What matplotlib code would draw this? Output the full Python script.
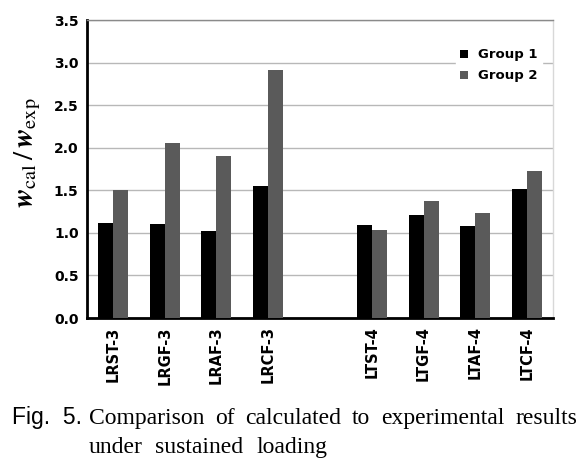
import numpy as np
import matplotlib
matplotlib.use('Agg')
import matplotlib.pyplot as plt

# data
labels = ['LRST-3', 'LRGF-3', 'LRAF-3', 'LRCF-3', '', 'LTST-4', 'LTGF-4', 'LTAF-4', 'LTCF-4']
group1 = [1.12, 1.10, 1.02, 1.555, np.nan, 1.09, 1.21, 1.08, 1.515]
group2 = [1.50, 2.06, 1.90, 2.91, np.nan, 1.03, 1.375, 1.23, 1.725]
yticks = [0.0, 0.5, 1.0, 1.5, 2.0, 2.5, 3.0, 3.5]
caption1 = 'Comparison of calculated to experimental results'
caption2 = 'under sustained loading'

plt.rcParams['mathtext.fontset'] = 'stix'

fig = plt.figure(figsize=(5.86, 4.65), dpi=100)
ax = fig.add_axes([87/586, 1-318/465, 466/586, 298/465])

x = np.arange(len(labels))
w = 0.29
ax.bar(x - w/2, group1, w, color='black', label='Group 1', zorder=3)
ax.bar(x + w/2, group2, w, color='#5a5a5a', label='Group 2', zorder=3)

ax.set_xlim(-0.5, len(labels) - 0.5)
ax.set_ylim(0, 3.5)
ax.set_yticks(yticks)
ax.set_yticklabels(['%.1f' % v for v in yticks], fontweight='bold', fontsize=10)
ax.set_xticks([i for i in x if labels[i] != ''])
ax.set_xticklabels([l for l in labels if l != ''], rotation=90, fontweight='bold', fontsize=10.5)
ax.tick_params(length=0, pad=6)
ax.tick_params(axis='x', pad=6)

ax.yaxis.grid(True, color='#b8b8b8', linewidth=1, zorder=0)
ax.spines['left'].set_linewidth(2)
ax.spines['bottom'].set_linewidth(2)
ax.spines['top'].set_color('#8a8a8a')
ax.spines['top'].set_linewidth(1)
ax.spines['right'].set_color('#d8d8d8')
ax.spines['right'].set_linewidth(1)

ax.set_ylabel(r'$\mathbfit{w}_{\mathrm{cal}}\,/\,\mathbfit{w}_{\mathrm{exp}}$', fontsize=21)
ax.yaxis.set_label_coords(-0.095, 0.554)

leg = ax.legend(loc='upper right', bbox_to_anchor=(0.99, 0.94), frameon=True, fancybox=False,
                edgecolor='white', framealpha=1, handlelength=0.6, handleheight=0.6,
                handletextpad=0.8, borderpad=0.3, labelspacing=0.6,
                prop={'weight': 'bold', 'size': 9.5})
leg.set_zorder(5)

fig.text(12/586, 1-424/465, 'Fig.  5.', family='Liberation Sans', fontsize=16.5, va='baseline')


# spread words of a caption line between x0 and x1 (pixels)
def justified(words, x0, x1, ybase, size):
    r = fig.canvas.get_renderer()
    txts = [fig.text(0, 1-ybase/465, s, family='Liberation Serif', fontsize=size, va='baseline')
            for s in words]
    widths = [t.get_window_extent(r).width for t in txts]
    gap = (x1 - x0 - sum(widths)) / (len(words) - 1)
    pos = x0
    for t, wd in zip(txts, widths):
        t.set_x(pos/586)
        pos += wd + gap


justified(caption1.split(), 89, 577, 424, 17)
justified(caption2.split(), 89, 327, 453, 17)

fig.savefig('out.png', dpi=100)
